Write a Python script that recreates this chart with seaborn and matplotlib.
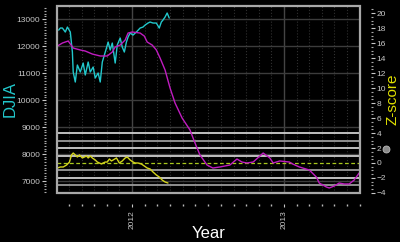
import matplotlib
matplotlib.use("Agg")
import matplotlib.pyplot as plt
import matplotlib.dates as mdates
from matplotlib.patches import Rectangle
import seaborn as sns
import pandas as pd
import numpy as np

# ---------------- data ----------------
djia_dates = ["2011-07-08", "2011-07-12", "2011-07-17", "2011-07-24", "2011-07-29", "2011-08-05",
              "2011-08-10", "2011-08-12", "2011-08-17", "2011-08-22", "2011-08-29", "2011-09-05",
              "2011-09-10", "2011-09-17", "2011-09-22", "2011-09-29", "2011-10-04", "2011-10-11",
              "2011-10-16", "2011-10-21", "2011-10-26", "2011-10-31", "2011-11-04", "2011-11-09",
              "2011-11-14", "2011-11-21", "2011-11-26", "2011-12-03", "2011-12-08", "2011-12-13",
              "2011-12-18", "2011-12-22", "2011-12-27", "2012-01-03", "2012-01-11", "2012-01-20",
              "2012-01-27", "2012-02-01", "2012-02-08", "2012-02-13", "2012-02-20", "2012-02-28",
              "2012-03-06", "2012-03-11", "2012-03-15", "2012-03-20", "2012-03-25", "2012-03-30"]
djia_values = [12590, 12667, 12667, 12519, 12704, 12519,
               11778, 11037, 10667, 11296, 11037, 11370,
               10926, 11407, 11037, 11222, 10815, 11000,
               10667, 11407, 11667, 11926, 12148, 11852,
               12111, 11370, 12037, 12296, 11963, 11778,
               12148, 12333, 12481, 12407, 12519, 12667,
               12704, 12778, 12852, 12889, 12852, 12852,
               12667, 12889, 12963, 13074, 13222, 13037]

zshort_dates = ["2011-07-05", "2011-07-12", "2011-07-19", "2011-07-27", "2011-08-03", "2011-08-08",
                "2011-08-12", "2011-08-17", "2011-08-22", "2011-08-27", "2011-09-03", "2011-09-08",
                "2011-09-13", "2011-09-17", "2011-09-22", "2011-09-27", "2011-10-04", "2011-10-09",
                "2011-10-14", "2011-10-19", "2011-10-23", "2011-10-28", "2011-11-02", "2011-11-07",
                "2011-11-12", "2011-11-16", "2011-11-24", "2011-12-01", "2011-12-08", "2011-12-15",
                "2011-12-20", "2011-12-27", "2012-01-03", "2012-01-08", "2012-01-15", "2012-01-23",
                "2012-01-30", "2012-02-06", "2012-02-13", "2012-02-20", "2012-02-28", "2012-03-06",
                "2012-03-13", "2012-03-20", "2012-03-27"]
zshort_values = [-0.67, -0.53, -0.53, -0.27, 0.13, 1.07,
                 1.33, 1.07, 0.80, 1.07, 0.67, 0.80,
                 0.93, 0.67, 0.93, 0.67, 0.40, 0.13,
                 0.00, -0.13, 0.00, 0.13, 0.13, 0.53,
                 0.27, 0.40, 0.67, 0.00, 0.27, 0.67,
                 0.80, 0.40, 0.13, 0.00, 0.00, -0.13,
                 -0.40, -0.67, -0.80, -1.20, -1.60, -1.87,
                 -2.27, -2.53, -2.67]

zlong_dates = ["2011-07-05", "2011-07-17", "2011-07-31", "2011-08-12", "2011-08-29", "2011-09-10",
               "2011-09-27", "2011-10-16", "2011-11-02", "2011-11-14", "2011-11-21", "2011-12-03",
               "2011-12-15", "2011-12-22", "2012-01-01", "2012-01-20", "2012-01-30", "2012-02-06",
               "2012-02-18", "2012-02-28", "2012-03-08", "2012-03-20", "2012-04-01", "2012-04-13",
               "2012-04-30", "2012-05-19", "2012-05-31", "2012-06-12", "2012-06-29", "2012-07-13",
               "2012-07-30", "2012-08-23", "2012-09-09", "2012-09-21", "2012-10-03", "2012-10-18",
               "2012-11-11", "2012-11-27", "2012-12-05", "2012-12-21", "2013-01-13", "2013-01-21",
               "2013-02-06", "2013-03-02", "2013-03-19", "2013-03-26", "2013-04-12", "2013-04-19",
               "2013-05-01", "2013-05-13", "2013-05-25", "2013-06-06", "2013-06-18", "2013-06-30"]
zlong_values = [15.60, 16.00, 16.27, 15.33, 15.07, 14.93,
                14.53, 14.27, 14.27, 14.80, 15.47, 15.73,
                16.40, 17.33, 17.47, 17.33, 16.93, 16.13,
                15.73, 15.07, 14.00, 12.40, 10.00, 8.00,
                6.00, 4.40, 2.67, 1.07, -0.27, -0.67,
                -0.53, -0.27, 0.53, 0.13, 0.00, 0.13,
                1.33, 0.67, 0.00, 0.27, 0.13, -0.13,
                -0.53, -0.93, -1.87, -2.67, -3.20, -3.33,
                -3.07, -2.67, -2.80, -2.80, -2.27, -1.33]

band_levels_bright = [4, 2, 1, -2]
band_levels_dim = [3, -1, -3, -4]
djia_ticks = [7000, 8000, 9000, 10000, 11000, 12000, 13000]
z_ticks = [-4, -2, 0, 2, 4, 6, 8, 10, 12, 14, 16, 18, 20]

# ---------------- style ----------------
sns.set_theme(style="dark")
plt.rcParams["font.family"] = ["Liberation Sans", "DejaVu Sans"]
plt.rcParams["axes.facecolor"] = "black"
plt.rcParams["figure.facecolor"] = "black"

CYAN = "#22c8cc"
MAGENTA = "#c01cc0"
YELLOW = "#d4d41c"
TICKC = "#c8c8c8"

fig = plt.figure(figsize=(4.0, 2.42), dpi=100, facecolor="black")
ax = fig.add_axes([0.1425, 0.2025, 0.7575, 0.7725])
ax.set_facecolor("black")
ax2 = ax.twinx()

df_djia = pd.DataFrame({"date": pd.to_datetime(djia_dates), "v": djia_values})
df_zs = pd.DataFrame({"date": pd.to_datetime(zshort_dates), "v": zshort_values})
df_zl = pd.DataFrame({"date": pd.to_datetime(zlong_dates), "v": zlong_values})

# grid on main axes
ax.set_ylim(6556, 13481)
ax.set_yticks(djia_ticks)
ax.yaxis.set_minor_locator(matplotlib.ticker.MultipleLocator(100))
ax.grid(True, which="major", axis="y", color="#3c3c3c", lw=1.0, ls="-")
ax.grid(True, which="major", axis="x", color="#444444", lw=1.0, ls="-")
ax.grid(True, which="minor", axis="x", color="#303030", lw=0.8, ls=":")

sns.lineplot(data=df_djia, x="date", y="v", ax=ax, color=CYAN, lw=1.0)

# z-score axis
ax2.set_ylim(-4, 20.93)
for lv in band_levels_bright:
    ax2.axhline(lv, color="#cfcfcf", lw=1.3)
for lv in band_levels_dim:
    ax2.axhline(lv, color="#9a9a9a", lw=1.3)
ax2.axhline(0, color="#a8c81c", lw=0.9, ls=(0, (3, 2)))
sns.lineplot(data=df_zl, x="date", y="v", ax=ax2, color=MAGENTA, lw=1.0)
sns.lineplot(data=df_zs, x="date", y="v", ax=ax2, color=YELLOW, lw=1.0)
ax2.set_yticks(z_ticks)
ax2.yaxis.set_minor_locator(matplotlib.ticker.MultipleLocator(0.5))

# x axis
ax.set_xlim(pd.Timestamp("2011-07-04"), pd.Timestamp("2013-07-02"))
ax.xaxis.set_major_locator(mdates.YearLocator())
ax.xaxis.set_major_formatter(mdates.DateFormatter("%Y"))
ax.xaxis.set_minor_locator(mdates.MonthLocator())

for a in (ax, ax2):
    a.set_xlabel("")
    a.set_ylabel("")
    for s in a.spines.values():
        s.set_visible(False)
ax2.grid(False)

ax.spines["left"].set_position(("outward", 8))
ax.spines["bottom"].set_position(("outward", 8))
ax2.spines["right"].set_position(("outward", 8))

ax.tick_params(axis="y", which="major", left=True, length=3, width=0.8, color=TICKC,
               labelsize=6, labelcolor=TICKC, pad=1)
ax.tick_params(axis="y", which="minor", left=True, length=1.2, width=0.8, color="#aaaaaa")
ax.tick_params(axis="x", which="major", bottom=True, length=2.5, width=0.8, color=TICKC,
               labelsize=6, labelcolor=TICKC, labelrotation=90, pad=2)
ax.tick_params(axis="x", which="minor", bottom=True, length=1.2, width=1.0, color="#bbbbbb")
ax2.tick_params(axis="y", which="major", right=True, length=3, width=0.8, color=TICKC,
                labelsize=6, labelcolor=TICKC, pad=1)
ax2.tick_params(axis="y", which="minor", right=True, length=1.5, width=0.8, color="#aaaaaa")
ax.set_axisbelow(True)

# frame round plotting region
ax2.add_patch(Rectangle((0, 0), 1, 1, transform=ax2.transAxes, fill=False,
                        edgecolor="#a8a8a8", lw=1.6, clip_on=False, zorder=5))

# labels
fig.text(0.026, 0.59, "DJIA", color=CYAN, fontsize=12, rotation=90, ha="center", va="center")
fig.text(0.982, 0.59, "Z-score", color="#e0e000", fontsize=11, rotation=90, ha="center", va="center")
fig.text(0.522, 0.035, "Year", color="white", fontsize=12, ha="center", va="center")
fig.add_artist(matplotlib.lines.Line2D([0.965], [0.384], marker="o", ms=5, color="#8a8a8a",
                                       mec="#bbbbbb", mew=0.6, transform=fig.transFigure))

fig.savefig("out.png", dpi=100, facecolor="black")
